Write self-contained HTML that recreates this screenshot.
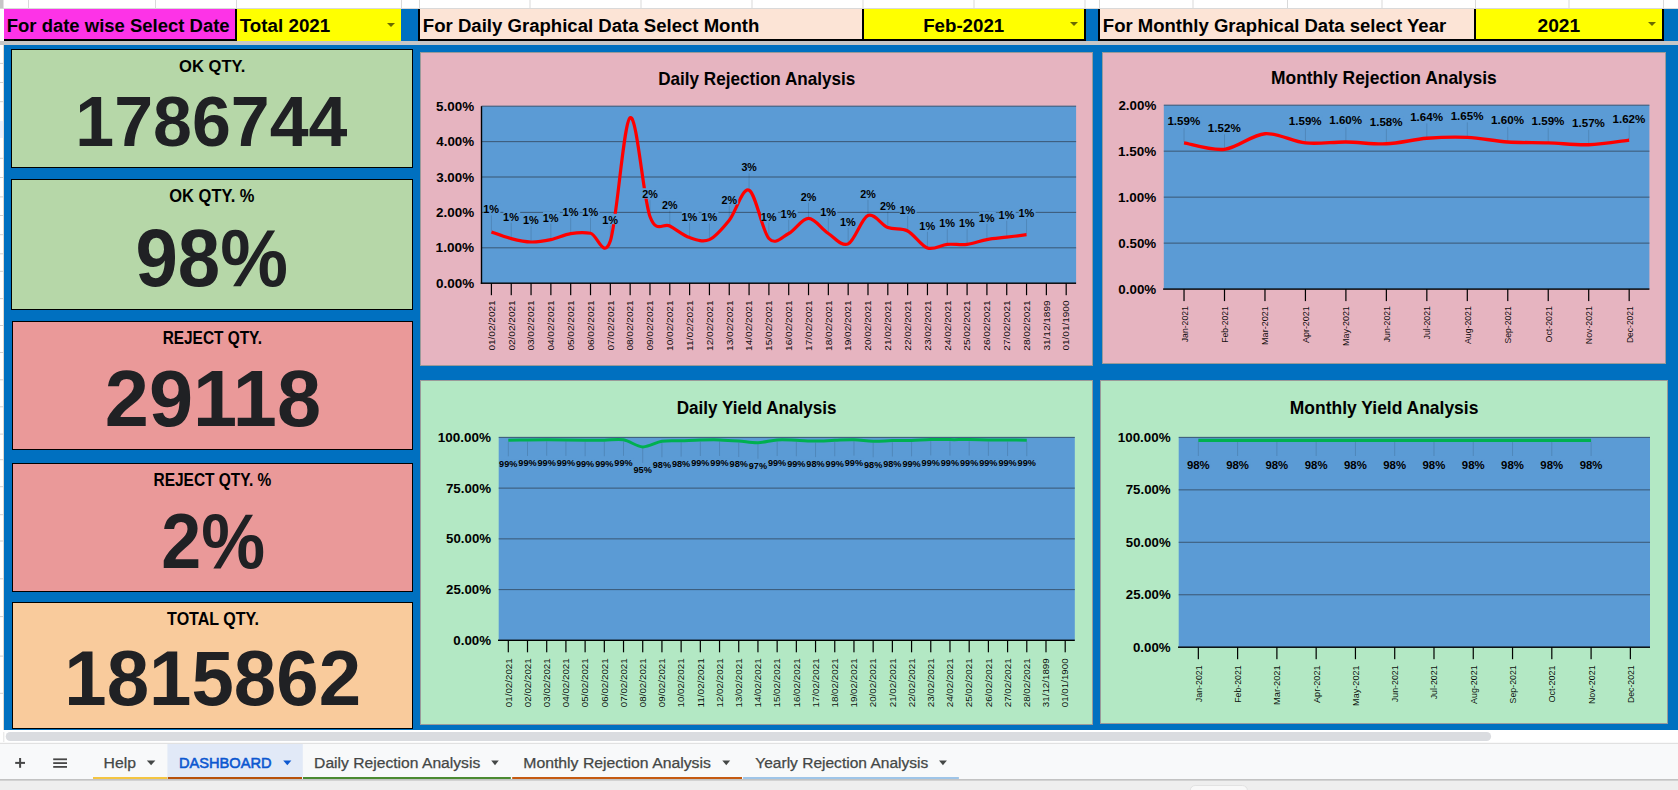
<!DOCTYPE html>
<html><head><meta charset="utf-8"><title>Dashboard</title>
<style>
html,body{margin:0;padding:0;background:#fff;overflow:hidden;}
svg{display:block;font-family:"Liberation Sans",sans-serif;}
text{font-family:"Liberation Sans",sans-serif;}
</style></head>
<body>
<svg width="1678" height="790" viewBox="0 0 1678 790">
<rect x="0.00" y="0.00" width="1678.00" height="790.00" fill="#ffffff" />
<rect x="0.00" y="0.00" width="3.50" height="8.50" fill="#c6c6c6" />
<rect x="28.00" y="0.00" width="1.00" height="8.50" fill="#d9d9d9" />
<rect x="155.00" y="0.00" width="1.00" height="8.50" fill="#d9d9d9" />
<rect x="236.00" y="0.00" width="1.00" height="8.50" fill="#d9d9d9" />
<rect x="401.00" y="0.00" width="1.00" height="8.50" fill="#d9d9d9" />
<rect x="419.00" y="0.00" width="1.00" height="8.50" fill="#d9d9d9" />
<rect x="529.50" y="0.00" width="1.00" height="8.50" fill="#d9d9d9" />
<rect x="640.50" y="0.00" width="1.00" height="8.50" fill="#d9d9d9" />
<rect x="751.50" y="0.00" width="1.00" height="8.50" fill="#d9d9d9" />
<rect x="862.50" y="0.00" width="1.00" height="8.50" fill="#d9d9d9" />
<rect x="973.50" y="0.00" width="1.00" height="8.50" fill="#d9d9d9" />
<rect x="1084.50" y="0.00" width="1.00" height="8.50" fill="#d9d9d9" />
<rect x="1099.00" y="0.00" width="1.00" height="8.50" fill="#d9d9d9" />
<rect x="1192.50" y="0.00" width="1.00" height="8.50" fill="#d9d9d9" />
<rect x="1287.00" y="0.00" width="1.00" height="8.50" fill="#d9d9d9" />
<rect x="1381.50" y="0.00" width="1.00" height="8.50" fill="#d9d9d9" />
<rect x="1475.00" y="0.00" width="1.00" height="8.50" fill="#d9d9d9" />
<rect x="1568.50" y="0.00" width="1.00" height="8.50" fill="#d9d9d9" />
<rect x="1663.00" y="0.00" width="1.00" height="8.50" fill="#d9d9d9" />
<rect x="0.00" y="8.00" width="1678.00" height="1.00" fill="#d9d9d9" />
<rect x="4.00" y="9.00" width="231.00" height="30.00" fill="#fd33e7" />
<rect x="4.00" y="39.00" width="233.00" height="2.00" fill="#000" />
<rect x="235.00" y="9.00" width="2.00" height="32.00" fill="#000" />
<rect x="237.00" y="9.00" width="164.00" height="32.00" fill="#ffff00" />
<rect x="401.00" y="9.00" width="17.00" height="32.00" fill="#0070c0" />
<rect x="418.00" y="9.00" width="668.00" height="32.00" fill="#000" />
<rect x="420.00" y="9.00" width="442.00" height="30.00" fill="#fce4d6" />
<rect x="864.00" y="9.00" width="220.00" height="30.00" fill="#ffff00" />
<rect x="1086.00" y="9.00" width="12.00" height="32.00" fill="#0070c0" />
<rect x="1098.00" y="9.00" width="566.00" height="32.00" fill="#000" />
<rect x="1100.00" y="9.00" width="374.00" height="30.00" fill="#fce4d6" />
<rect x="1476.00" y="9.00" width="186.00" height="30.00" fill="#ffff00" />
<rect x="1664.00" y="9.00" width="14.00" height="32.00" fill="#0070c0" />
<rect x="0.00" y="41.00" width="1678.00" height="4.00" fill="#c7c7c7" />
<rect x="4.00" y="45.00" width="1674.00" height="685.00" fill="#0070c0" />
<rect x="3.20" y="45.00" width="0.80" height="685.00" fill="#d8cfc4" />
<rect x="0.00" y="121.00" width="3.20" height="17.00" fill="#e8f0fe" />
<rect x="0.00" y="62.90" width="3.20" height="1.00" fill="#d0d0d0" />
<rect x="0.00" y="82.00" width="3.20" height="1.00" fill="#d0d0d0" />
<rect x="0.00" y="101.20" width="3.20" height="1.00" fill="#d0d0d0" />
<rect x="0.00" y="157.80" width="3.20" height="1.00" fill="#d0d0d0" />
<rect x="0.00" y="177.00" width="3.20" height="1.00" fill="#d0d0d0" />
<rect x="0.00" y="196.40" width="3.20" height="1.00" fill="#d0d0d0" />
<rect x="0.00" y="215.00" width="3.20" height="1.00" fill="#d0d0d0" />
<rect x="0.00" y="234.20" width="3.20" height="1.00" fill="#d0d0d0" />
<rect x="0.00" y="253.30" width="3.20" height="1.00" fill="#d0d0d0" />
<rect x="0.00" y="270.80" width="3.20" height="1.00" fill="#d0d0d0" />
<rect x="0.00" y="298.10" width="3.20" height="1.00" fill="#d0d0d0" />
<rect x="0.00" y="325.00" width="3.20" height="1.00" fill="#d0d0d0" />
<rect x="0.00" y="352.00" width="3.20" height="1.00" fill="#d0d0d0" />
<rect x="0.00" y="379.30" width="3.20" height="1.00" fill="#d0d0d0" />
<rect x="0.00" y="406.30" width="3.20" height="1.00" fill="#d0d0d0" />
<rect x="0.00" y="433.60" width="3.20" height="1.00" fill="#d0d0d0" />
<rect x="0.00" y="459.20" width="3.20" height="1.00" fill="#d0d0d0" />
<rect x="0.00" y="486.20" width="3.20" height="1.00" fill="#d0d0d0" />
<rect x="0.00" y="514.20" width="3.20" height="1.00" fill="#d0d0d0" />
<rect x="0.00" y="540.50" width="3.20" height="1.00" fill="#d0d0d0" />
<rect x="0.00" y="578.30" width="3.20" height="1.00" fill="#d0d0d0" />
<rect x="0.00" y="616.10" width="3.20" height="1.00" fill="#d0d0d0" />
<rect x="0.00" y="655.60" width="3.20" height="1.00" fill="#d0d0d0" />
<rect x="0.00" y="692.80" width="3.20" height="1.00" fill="#d0d0d0" />
<path d="M387.00,23.00 L395.00,23.00 L391.00,27.00 Z" fill="#6a6a00"/>
<path d="M1070.00,22.00 L1078.00,22.00 L1074.00,26.00 Z" fill="#6a6a00"/>
<path d="M1648.00,22.00 L1656.00,22.00 L1652.00,26.00 Z" fill="#6a6a00"/>
<text x="6.76" y="31.70" font-size="18.00" font-weight="bold" fill="#000" textLength="222.87" lengthAdjust="spacingAndGlyphs" >For date wise Select Date</text>
<text x="239.79" y="31.70" font-size="18.00" font-weight="bold" fill="#000" textLength="90.43" lengthAdjust="spacingAndGlyphs" >Total 2021</text>
<text x="422.86" y="31.70" font-size="18.00" font-weight="bold" fill="#000" textLength="336.49" lengthAdjust="spacingAndGlyphs" >For Daily Graphical Data Select Month</text>
<text x="923.15" y="31.50" font-size="17.71" font-weight="bold" fill="#000" textLength="81.07" lengthAdjust="spacingAndGlyphs" >Feb-2021</text>
<text x="1102.86" y="31.70" font-size="18.00" font-weight="bold" fill="#000" textLength="343.32" lengthAdjust="spacingAndGlyphs" >For Monthly Graphical Data select Year</text>
<text x="1537.53" y="31.50" font-size="17.71" font-weight="bold" fill="#000" textLength="42.70" lengthAdjust="spacingAndGlyphs" >2021</text>
<rect x="11.00" y="49.00" width="402.00" height="119.00" fill="#000" />
<rect x="12.00" y="50.00" width="400.00" height="117.00" fill="#b6d7a8" />
<rect x="11.00" y="179.00" width="402.00" height="131.00" fill="#000" />
<rect x="12.00" y="180.00" width="400.00" height="129.00" fill="#b6d7a8" />
<rect x="12.00" y="321.00" width="401.00" height="129.00" fill="#000" />
<rect x="13.00" y="322.00" width="399.00" height="127.00" fill="#ea9999" />
<rect x="12.00" y="463.00" width="401.00" height="129.00" fill="#000" />
<rect x="13.00" y="464.00" width="399.00" height="127.00" fill="#ea9999" />
<rect x="12.00" y="602.00" width="401.00" height="127.00" fill="#000" />
<rect x="13.00" y="603.00" width="399.00" height="125.00" fill="#f9cb9c" />
<text x="179.12" y="71.80" font-size="17.14" font-weight="bold" fill="#000" textLength="66.22" lengthAdjust="spacingAndGlyphs" >OK QTY.</text>
<text x="75.30" y="146.00" font-size="70.79" font-weight="bold" fill="#202124" textLength="272.08" lengthAdjust="spacingAndGlyphs" >1786744</text>
<text x="169.32" y="202.00" font-size="18.00" font-weight="bold" fill="#000" textLength="85.11" lengthAdjust="spacingAndGlyphs" >OK QTY. %</text>
<text x="135.46" y="285.50" font-size="80.86" font-weight="bold" fill="#202124" textLength="152.45" lengthAdjust="spacingAndGlyphs" >98%</text>
<text x="162.67" y="343.80" font-size="17.71" font-weight="bold" fill="#000" textLength="99.29" lengthAdjust="spacingAndGlyphs" >REJECT QTY.</text>
<text x="104.75" y="426.30" font-size="79.71" font-weight="bold" fill="#202124" textLength="216.29" lengthAdjust="spacingAndGlyphs" >29118</text>
<text x="153.46" y="485.80" font-size="17.86" font-weight="bold" fill="#000" textLength="117.84" lengthAdjust="spacingAndGlyphs" >REJECT QTY. %</text>
<text x="161.31" y="567.60" font-size="78.00" font-weight="bold" fill="#202124" textLength="103.78" lengthAdjust="spacingAndGlyphs" >2%</text>
<text x="167.12" y="624.80" font-size="17.71" font-weight="bold" fill="#000" textLength="91.88" lengthAdjust="spacingAndGlyphs" >TOTAL QTY.</text>
<text x="64.30" y="704.90" font-size="77.41" font-weight="bold" fill="#202124" textLength="296.75" lengthAdjust="spacingAndGlyphs" >1815862</text>
<rect x="420.00" y="52.00" width="673.00" height="314.00" fill="#9a9a9a" />
<rect x="421.00" y="53.00" width="671.00" height="312.00" fill="#e6b4c0" />
<rect x="1102.00" y="52.00" width="564.00" height="312.00" fill="#9a9a9a" />
<rect x="1103.00" y="53.00" width="562.00" height="310.00" fill="#e6b4c0" />
<rect x="420.00" y="380.00" width="673.00" height="345.00" fill="#9a9a9a" />
<rect x="421.00" y="381.00" width="671.00" height="343.00" fill="#b3e8c4" />
<rect x="1100.00" y="380.00" width="568.00" height="344.00" fill="#9a9a9a" />
<rect x="1101.00" y="381.00" width="566.00" height="342.00" fill="#b3e8c4" />
<rect x="481.50" y="106.20" width="594.60" height="177.00" fill="#5b9bd5" />
<rect x="481.50" y="105.65" width="594.60" height="1.10" fill="#3d5d7c" />
<rect x="481.50" y="141.05" width="594.60" height="1.10" fill="#3d5d7c" />
<rect x="481.50" y="176.45" width="594.60" height="1.10" fill="#3d5d7c" />
<rect x="481.50" y="211.85" width="594.60" height="1.10" fill="#3d5d7c" />
<rect x="481.50" y="247.25" width="594.60" height="1.10" fill="#3d5d7c" />
<rect x="480.80" y="106.20" width="1.40" height="177.70" fill="#000" />
<rect x="480.80" y="282.50" width="595.30" height="1.40" fill="#000" />
<rect x="490.81" y="283.20" width="1.20" height="12.00" fill="#000" />
<rect x="510.63" y="283.20" width="1.20" height="12.00" fill="#000" />
<rect x="530.45" y="283.20" width="1.20" height="12.00" fill="#000" />
<rect x="550.27" y="283.20" width="1.20" height="12.00" fill="#000" />
<rect x="570.09" y="283.20" width="1.20" height="12.00" fill="#000" />
<rect x="589.91" y="283.20" width="1.20" height="12.00" fill="#000" />
<rect x="609.73" y="283.20" width="1.20" height="12.00" fill="#000" />
<rect x="629.55" y="283.20" width="1.20" height="12.00" fill="#000" />
<rect x="649.37" y="283.20" width="1.20" height="12.00" fill="#000" />
<rect x="669.19" y="283.20" width="1.20" height="12.00" fill="#000" />
<rect x="689.01" y="283.20" width="1.20" height="12.00" fill="#000" />
<rect x="708.83" y="283.20" width="1.20" height="12.00" fill="#000" />
<rect x="728.65" y="283.20" width="1.20" height="12.00" fill="#000" />
<rect x="748.47" y="283.20" width="1.20" height="12.00" fill="#000" />
<rect x="768.29" y="283.20" width="1.20" height="12.00" fill="#000" />
<rect x="788.11" y="283.20" width="1.20" height="12.00" fill="#000" />
<rect x="807.93" y="283.20" width="1.20" height="12.00" fill="#000" />
<rect x="827.75" y="283.20" width="1.20" height="12.00" fill="#000" />
<rect x="847.57" y="283.20" width="1.20" height="12.00" fill="#000" />
<rect x="867.39" y="283.20" width="1.20" height="12.00" fill="#000" />
<rect x="887.21" y="283.20" width="1.20" height="12.00" fill="#000" />
<rect x="907.03" y="283.20" width="1.20" height="12.00" fill="#000" />
<rect x="926.85" y="283.20" width="1.20" height="12.00" fill="#000" />
<rect x="946.67" y="283.20" width="1.20" height="12.00" fill="#000" />
<rect x="966.49" y="283.20" width="1.20" height="12.00" fill="#000" />
<rect x="986.31" y="283.20" width="1.20" height="12.00" fill="#000" />
<rect x="1006.13" y="283.20" width="1.20" height="12.00" fill="#000" />
<rect x="1025.95" y="283.20" width="1.20" height="12.00" fill="#000" />
<rect x="1045.77" y="283.20" width="1.20" height="12.00" fill="#000" />
<rect x="1065.59" y="283.20" width="1.20" height="12.00" fill="#000" />
<text x="658.16" y="85.00" font-size="17.71" font-weight="bold" fill="#000" textLength="197.14" lengthAdjust="spacingAndGlyphs" >Daily Rejection Analysis</text>
<text x="436.09" y="110.80" font-size="12.29" font-weight="bold" fill="#000" textLength="38.07" lengthAdjust="spacingAndGlyphs" >5.00%</text>
<text x="436.30" y="146.20" font-size="12.29" font-weight="bold" fill="#000" textLength="37.85" lengthAdjust="spacingAndGlyphs" >4.00%</text>
<text x="436.19" y="181.60" font-size="12.29" font-weight="bold" fill="#000" textLength="37.96" lengthAdjust="spacingAndGlyphs" >3.00%</text>
<text x="436.03" y="217.00" font-size="12.29" font-weight="bold" fill="#000" textLength="38.12" lengthAdjust="spacingAndGlyphs" >2.00%</text>
<text x="435.64" y="252.40" font-size="12.29" font-weight="bold" fill="#000" textLength="38.51" lengthAdjust="spacingAndGlyphs" >1.00%</text>
<text x="435.97" y="287.80" font-size="12.29" font-weight="bold" fill="#000" textLength="38.19" lengthAdjust="spacingAndGlyphs" >0.00%</text>
<text transform="translate(494.71,350.20) rotate(-90)" x="-0.39" y="0" font-size="9.00" font-weight="normal" fill="#000" textLength="50.18" lengthAdjust="spacingAndGlyphs" fill-opacity="0.95">01/02/2021</text>
<text transform="translate(514.53,350.20) rotate(-90)" x="-0.39" y="0" font-size="9.00" font-weight="normal" fill="#000" textLength="50.18" lengthAdjust="spacingAndGlyphs" fill-opacity="0.95">02/02/2021</text>
<text transform="translate(534.35,350.20) rotate(-90)" x="-0.39" y="0" font-size="9.00" font-weight="normal" fill="#000" textLength="50.18" lengthAdjust="spacingAndGlyphs" fill-opacity="0.95">03/02/2021</text>
<text transform="translate(554.17,350.20) rotate(-90)" x="-0.39" y="0" font-size="9.00" font-weight="normal" fill="#000" textLength="50.18" lengthAdjust="spacingAndGlyphs" fill-opacity="0.95">04/02/2021</text>
<text transform="translate(573.99,350.20) rotate(-90)" x="-0.39" y="0" font-size="9.00" font-weight="normal" fill="#000" textLength="50.18" lengthAdjust="spacingAndGlyphs" fill-opacity="0.95">05/02/2021</text>
<text transform="translate(593.81,350.20) rotate(-90)" x="-0.39" y="0" font-size="9.00" font-weight="normal" fill="#000" textLength="50.18" lengthAdjust="spacingAndGlyphs" fill-opacity="0.95">06/02/2021</text>
<text transform="translate(613.63,350.20) rotate(-90)" x="-0.39" y="0" font-size="9.00" font-weight="normal" fill="#000" textLength="50.18" lengthAdjust="spacingAndGlyphs" fill-opacity="0.95">07/02/2021</text>
<text transform="translate(633.45,350.20) rotate(-90)" x="-0.39" y="0" font-size="9.00" font-weight="normal" fill="#000" textLength="50.18" lengthAdjust="spacingAndGlyphs" fill-opacity="0.95">08/02/2021</text>
<text transform="translate(653.27,350.20) rotate(-90)" x="-0.39" y="0" font-size="9.00" font-weight="normal" fill="#000" textLength="50.18" lengthAdjust="spacingAndGlyphs" fill-opacity="0.95">09/02/2021</text>
<text transform="translate(673.09,350.20) rotate(-90)" x="-0.77" y="0" font-size="9.00" font-weight="normal" fill="#000" textLength="50.56" lengthAdjust="spacingAndGlyphs" fill-opacity="0.95">10/02/2021</text>
<text transform="translate(692.91,350.20) rotate(-90)" x="-0.78" y="0" font-size="9.00" font-weight="normal" fill="#000" textLength="50.58" lengthAdjust="spacingAndGlyphs" fill-opacity="0.95">11/02/2021</text>
<text transform="translate(712.73,350.20) rotate(-90)" x="-0.77" y="0" font-size="9.00" font-weight="normal" fill="#000" textLength="50.56" lengthAdjust="spacingAndGlyphs" fill-opacity="0.95">12/02/2021</text>
<text transform="translate(732.55,350.20) rotate(-90)" x="-0.77" y="0" font-size="9.00" font-weight="normal" fill="#000" textLength="50.56" lengthAdjust="spacingAndGlyphs" fill-opacity="0.95">13/02/2021</text>
<text transform="translate(752.37,350.20) rotate(-90)" x="-0.77" y="0" font-size="9.00" font-weight="normal" fill="#000" textLength="50.56" lengthAdjust="spacingAndGlyphs" fill-opacity="0.95">14/02/2021</text>
<text transform="translate(772.19,350.20) rotate(-90)" x="-0.77" y="0" font-size="9.00" font-weight="normal" fill="#000" textLength="50.56" lengthAdjust="spacingAndGlyphs" fill-opacity="0.95">15/02/2021</text>
<text transform="translate(792.01,350.20) rotate(-90)" x="-0.77" y="0" font-size="9.00" font-weight="normal" fill="#000" textLength="50.56" lengthAdjust="spacingAndGlyphs" fill-opacity="0.95">16/02/2021</text>
<text transform="translate(811.83,350.20) rotate(-90)" x="-0.77" y="0" font-size="9.00" font-weight="normal" fill="#000" textLength="50.56" lengthAdjust="spacingAndGlyphs" fill-opacity="0.95">17/02/2021</text>
<text transform="translate(831.65,350.20) rotate(-90)" x="-0.77" y="0" font-size="9.00" font-weight="normal" fill="#000" textLength="50.56" lengthAdjust="spacingAndGlyphs" fill-opacity="0.95">18/02/2021</text>
<text transform="translate(851.47,350.20) rotate(-90)" x="-0.77" y="0" font-size="9.00" font-weight="normal" fill="#000" textLength="50.56" lengthAdjust="spacingAndGlyphs" fill-opacity="0.95">19/02/2021</text>
<text transform="translate(871.29,350.20) rotate(-90)" x="-0.51" y="0" font-size="9.00" font-weight="normal" fill="#000" textLength="50.30" lengthAdjust="spacingAndGlyphs" fill-opacity="0.95">20/02/2021</text>
<text transform="translate(891.11,350.20) rotate(-90)" x="-0.51" y="0" font-size="9.00" font-weight="normal" fill="#000" textLength="50.30" lengthAdjust="spacingAndGlyphs" fill-opacity="0.95">21/02/2021</text>
<text transform="translate(910.93,350.20) rotate(-90)" x="-0.51" y="0" font-size="9.00" font-weight="normal" fill="#000" textLength="50.30" lengthAdjust="spacingAndGlyphs" fill-opacity="0.95">22/02/2021</text>
<text transform="translate(930.75,350.20) rotate(-90)" x="-0.51" y="0" font-size="9.00" font-weight="normal" fill="#000" textLength="50.30" lengthAdjust="spacingAndGlyphs" fill-opacity="0.95">23/02/2021</text>
<text transform="translate(950.57,350.20) rotate(-90)" x="-0.51" y="0" font-size="9.00" font-weight="normal" fill="#000" textLength="50.30" lengthAdjust="spacingAndGlyphs" fill-opacity="0.95">24/02/2021</text>
<text transform="translate(970.39,350.20) rotate(-90)" x="-0.51" y="0" font-size="9.00" font-weight="normal" fill="#000" textLength="50.30" lengthAdjust="spacingAndGlyphs" fill-opacity="0.95">25/02/2021</text>
<text transform="translate(990.21,350.20) rotate(-90)" x="-0.51" y="0" font-size="9.00" font-weight="normal" fill="#000" textLength="50.30" lengthAdjust="spacingAndGlyphs" fill-opacity="0.95">26/02/2021</text>
<text transform="translate(1010.03,350.20) rotate(-90)" x="-0.51" y="0" font-size="9.00" font-weight="normal" fill="#000" textLength="50.30" lengthAdjust="spacingAndGlyphs" fill-opacity="0.95">27/02/2021</text>
<text transform="translate(1029.85,350.20) rotate(-90)" x="-0.51" y="0" font-size="9.00" font-weight="normal" fill="#000" textLength="50.30" lengthAdjust="spacingAndGlyphs" fill-opacity="0.95">28/02/2021</text>
<text transform="translate(1049.67,350.20) rotate(-90)" x="-0.38" y="0" font-size="9.00" font-weight="normal" fill="#000" textLength="50.16" lengthAdjust="spacingAndGlyphs" fill-opacity="0.95">31/12/1899</text>
<text transform="translate(1069.49,350.20) rotate(-90)" x="-0.39" y="0" font-size="9.00" font-weight="normal" fill="#000" textLength="50.08" lengthAdjust="spacingAndGlyphs" fill-opacity="0.95">01/01/1900</text>
<line x1="491.41" y1="215.30" x2="491.41" y2="230.90" stroke="rgba(0,0,0,0.13)" stroke-width="1" />
<line x1="511.23" y1="222.60" x2="511.23" y2="237.60" stroke="rgba(0,0,0,0.13)" stroke-width="1" />
<line x1="531.05" y1="225.70" x2="531.05" y2="241.00" stroke="rgba(0,0,0,0.13)" stroke-width="1" />
<line x1="550.87" y1="223.60" x2="550.87" y2="238.60" stroke="rgba(0,0,0,0.13)" stroke-width="1" />
<line x1="570.69" y1="217.80" x2="570.69" y2="232.60" stroke="rgba(0,0,0,0.13)" stroke-width="1" />
<line x1="590.51" y1="217.80" x2="590.51" y2="232.30" stroke="rgba(0,0,0,0.13)" stroke-width="1" />
<line x1="610.33" y1="225.70" x2="610.33" y2="240.00" stroke="rgba(0,0,0,0.13)" stroke-width="1" />
<line x1="649.97" y1="200.10" x2="649.97" y2="215.50" stroke="rgba(0,0,0,0.13)" stroke-width="1" />
<line x1="669.79" y1="210.60" x2="669.79" y2="225.00" stroke="rgba(0,0,0,0.13)" stroke-width="1" />
<line x1="689.61" y1="222.60" x2="689.61" y2="236.60" stroke="rgba(0,0,0,0.13)" stroke-width="1" />
<line x1="709.43" y1="223.30" x2="709.43" y2="238.60" stroke="rgba(0,0,0,0.13)" stroke-width="1" />
<line x1="729.25" y1="205.80" x2="729.25" y2="219.30" stroke="rgba(0,0,0,0.13)" stroke-width="1" />
<line x1="749.07" y1="173.30" x2="749.07" y2="189.20" stroke="rgba(0,0,0,0.13)" stroke-width="1" />
<line x1="768.89" y1="222.60" x2="768.89" y2="237.50" stroke="rgba(0,0,0,0.13)" stroke-width="1" />
<line x1="788.71" y1="219.50" x2="788.71" y2="232.50" stroke="rgba(0,0,0,0.13)" stroke-width="1" />
<line x1="808.53" y1="202.60" x2="808.53" y2="217.40" stroke="rgba(0,0,0,0.13)" stroke-width="1" />
<line x1="828.35" y1="217.80" x2="828.35" y2="232.50" stroke="rgba(0,0,0,0.13)" stroke-width="1" />
<line x1="848.17" y1="227.90" x2="848.17" y2="242.90" stroke="rgba(0,0,0,0.13)" stroke-width="1" />
<line x1="867.99" y1="199.80" x2="867.99" y2="214.50" stroke="rgba(0,0,0,0.13)" stroke-width="1" />
<line x1="887.81" y1="211.80" x2="887.81" y2="226.50" stroke="rgba(0,0,0,0.13)" stroke-width="1" />
<line x1="907.63" y1="215.90" x2="907.63" y2="230.00" stroke="rgba(0,0,0,0.13)" stroke-width="1" />
<line x1="927.45" y1="231.80" x2="927.45" y2="247.00" stroke="rgba(0,0,0,0.13)" stroke-width="1" />
<line x1="947.27" y1="229.10" x2="947.27" y2="243.40" stroke="rgba(0,0,0,0.13)" stroke-width="1" />
<line x1="967.09" y1="229.10" x2="967.09" y2="243.40" stroke="rgba(0,0,0,0.13)" stroke-width="1" />
<line x1="986.91" y1="223.80" x2="986.91" y2="238.60" stroke="rgba(0,0,0,0.13)" stroke-width="1" />
<line x1="1006.73" y1="220.70" x2="1006.73" y2="236.20" stroke="rgba(0,0,0,0.13)" stroke-width="1" />
<line x1="1026.55" y1="219.00" x2="1026.55" y2="233.70" stroke="rgba(0,0,0,0.13)" stroke-width="1" />
<path d="M491.41,231.90 C494.71,233.02 504.62,236.92 511.23,238.60 C517.84,240.28 524.44,241.83 531.05,242.00 C537.66,242.17 544.26,241.00 550.87,239.60 C557.48,238.20 564.08,234.65 570.69,233.60 C577.30,232.55 583.90,232.07 590.51,233.30 C597.12,234.53 603.72,260.27 610.33,241.00 C616.94,221.73 623.54,121.78 630.15,117.70 C636.76,113.62 643.36,198.45 649.97,216.50 C656.58,234.55 663.18,222.48 669.79,226.00 C676.40,229.52 683.00,235.33 689.61,237.60 C696.22,239.87 702.82,242.48 709.43,239.60 C716.04,236.72 722.64,228.53 729.25,220.30 C735.86,212.07 742.46,187.17 749.07,190.20 C755.68,193.23 762.28,231.28 768.89,238.50 C775.50,245.72 782.10,236.85 788.71,233.50 C795.32,230.15 801.92,218.40 808.53,218.40 C815.14,218.40 821.74,229.25 828.35,233.50 C834.96,237.75 841.56,246.90 848.17,243.90 C854.78,240.90 861.38,218.23 867.99,215.50 C874.60,212.77 881.20,224.92 887.81,227.50 C894.42,230.08 901.02,227.58 907.63,231.00 C914.24,234.42 920.84,245.77 927.45,248.00 C934.06,250.23 940.66,245.00 947.27,244.40 C953.88,243.80 960.48,245.20 967.09,244.40 C973.70,243.60 980.30,240.80 986.91,239.60 C993.52,238.40 1000.12,238.02 1006.73,237.20 C1013.34,236.38 1023.25,235.12 1026.55,234.70" fill="none" stroke="#ff0000" stroke-width="3.2" stroke-linecap="butt" stroke-linejoin="round"/>
<rect x="483.56" y="203.40" width="16.80" height="10.40" fill="#5b9bd5" />
<text x="483.27" y="213.30" font-size="11.57" font-weight="bold" fill="#000" textLength="15.88" lengthAdjust="spacingAndGlyphs" >1%</text>
<rect x="503.38" y="210.70" width="16.80" height="10.40" fill="#5b9bd5" />
<text x="503.09" y="220.60" font-size="11.57" font-weight="bold" fill="#000" textLength="15.88" lengthAdjust="spacingAndGlyphs" >1%</text>
<rect x="523.20" y="213.80" width="16.80" height="10.40" fill="#5b9bd5" />
<text x="522.91" y="223.70" font-size="11.57" font-weight="bold" fill="#000" textLength="15.88" lengthAdjust="spacingAndGlyphs" >1%</text>
<rect x="543.02" y="211.70" width="16.80" height="10.40" fill="#5b9bd5" />
<text x="542.73" y="221.60" font-size="11.57" font-weight="bold" fill="#000" textLength="15.88" lengthAdjust="spacingAndGlyphs" >1%</text>
<rect x="562.84" y="205.90" width="16.80" height="10.40" fill="#5b9bd5" />
<text x="562.55" y="215.80" font-size="11.57" font-weight="bold" fill="#000" textLength="15.88" lengthAdjust="spacingAndGlyphs" >1%</text>
<rect x="582.66" y="205.90" width="16.80" height="10.40" fill="#5b9bd5" />
<text x="582.37" y="215.80" font-size="11.57" font-weight="bold" fill="#000" textLength="15.88" lengthAdjust="spacingAndGlyphs" >1%</text>
<rect x="602.48" y="213.80" width="16.80" height="10.40" fill="#5b9bd5" />
<text x="602.19" y="223.70" font-size="11.57" font-weight="bold" fill="#000" textLength="15.88" lengthAdjust="spacingAndGlyphs" >1%</text>
<rect x="642.12" y="188.20" width="16.80" height="10.40" fill="#5b9bd5" />
<text x="642.15" y="198.10" font-size="11.57" font-weight="bold" fill="#000" textLength="15.56" lengthAdjust="spacingAndGlyphs" >2%</text>
<rect x="661.94" y="198.70" width="16.80" height="10.40" fill="#5b9bd5" />
<text x="661.97" y="208.60" font-size="11.57" font-weight="bold" fill="#000" textLength="15.56" lengthAdjust="spacingAndGlyphs" >2%</text>
<rect x="681.76" y="210.70" width="16.80" height="10.40" fill="#5b9bd5" />
<text x="681.47" y="220.60" font-size="11.57" font-weight="bold" fill="#000" textLength="15.88" lengthAdjust="spacingAndGlyphs" >1%</text>
<rect x="701.58" y="211.40" width="16.80" height="10.40" fill="#5b9bd5" />
<text x="701.29" y="221.30" font-size="11.57" font-weight="bold" fill="#000" textLength="15.88" lengthAdjust="spacingAndGlyphs" >1%</text>
<rect x="721.40" y="193.90" width="16.80" height="10.40" fill="#5b9bd5" />
<text x="721.43" y="203.80" font-size="11.57" font-weight="bold" fill="#000" textLength="15.56" lengthAdjust="spacingAndGlyphs" >2%</text>
<rect x="741.22" y="161.40" width="16.80" height="10.40" fill="#5b9bd5" />
<text x="741.38" y="171.30" font-size="11.57" font-weight="bold" fill="#000" textLength="15.43" lengthAdjust="spacingAndGlyphs" >3%</text>
<rect x="761.04" y="210.70" width="16.80" height="10.40" fill="#5b9bd5" />
<text x="760.75" y="220.60" font-size="11.57" font-weight="bold" fill="#000" textLength="15.88" lengthAdjust="spacingAndGlyphs" >1%</text>
<rect x="780.86" y="207.60" width="16.80" height="10.40" fill="#5b9bd5" />
<text x="780.57" y="217.50" font-size="11.57" font-weight="bold" fill="#000" textLength="15.88" lengthAdjust="spacingAndGlyphs" >1%</text>
<rect x="800.68" y="190.70" width="16.80" height="10.40" fill="#5b9bd5" />
<text x="800.71" y="200.60" font-size="11.57" font-weight="bold" fill="#000" textLength="15.56" lengthAdjust="spacingAndGlyphs" >2%</text>
<rect x="820.50" y="205.90" width="16.80" height="10.40" fill="#5b9bd5" />
<text x="820.21" y="215.80" font-size="11.57" font-weight="bold" fill="#000" textLength="15.88" lengthAdjust="spacingAndGlyphs" >1%</text>
<rect x="840.32" y="216.00" width="16.80" height="10.40" fill="#5b9bd5" />
<text x="840.03" y="225.90" font-size="11.57" font-weight="bold" fill="#000" textLength="15.88" lengthAdjust="spacingAndGlyphs" >1%</text>
<rect x="860.14" y="187.90" width="16.80" height="10.40" fill="#5b9bd5" />
<text x="860.17" y="197.80" font-size="11.57" font-weight="bold" fill="#000" textLength="15.56" lengthAdjust="spacingAndGlyphs" >2%</text>
<rect x="879.96" y="199.90" width="16.80" height="10.40" fill="#5b9bd5" />
<text x="879.99" y="209.80" font-size="11.57" font-weight="bold" fill="#000" textLength="15.56" lengthAdjust="spacingAndGlyphs" >2%</text>
<rect x="899.78" y="204.00" width="16.80" height="10.40" fill="#5b9bd5" />
<text x="899.49" y="213.90" font-size="11.57" font-weight="bold" fill="#000" textLength="15.88" lengthAdjust="spacingAndGlyphs" >1%</text>
<rect x="919.60" y="219.90" width="16.80" height="10.40" fill="#5b9bd5" />
<text x="919.31" y="229.80" font-size="11.57" font-weight="bold" fill="#000" textLength="15.88" lengthAdjust="spacingAndGlyphs" >1%</text>
<rect x="939.42" y="217.20" width="16.80" height="10.40" fill="#5b9bd5" />
<text x="939.13" y="227.10" font-size="11.57" font-weight="bold" fill="#000" textLength="15.88" lengthAdjust="spacingAndGlyphs" >1%</text>
<rect x="959.24" y="217.20" width="16.80" height="10.40" fill="#5b9bd5" />
<text x="958.95" y="227.10" font-size="11.57" font-weight="bold" fill="#000" textLength="15.88" lengthAdjust="spacingAndGlyphs" >1%</text>
<rect x="979.06" y="211.90" width="16.80" height="10.40" fill="#5b9bd5" />
<text x="978.77" y="221.80" font-size="11.57" font-weight="bold" fill="#000" textLength="15.88" lengthAdjust="spacingAndGlyphs" >1%</text>
<rect x="998.88" y="208.80" width="16.80" height="10.40" fill="#5b9bd5" />
<text x="998.59" y="218.70" font-size="11.57" font-weight="bold" fill="#000" textLength="15.88" lengthAdjust="spacingAndGlyphs" >1%</text>
<rect x="1018.70" y="207.10" width="16.80" height="10.40" fill="#5b9bd5" />
<text x="1018.41" y="217.00" font-size="11.57" font-weight="bold" fill="#000" textLength="15.88" lengthAdjust="spacingAndGlyphs" >1%</text>
<rect x="1163.80" y="105.20" width="485.60" height="183.90" fill="#5b9bd5" />
<rect x="1163.80" y="104.65" width="485.60" height="1.10" fill="#3d5d7c" />
<rect x="1163.80" y="150.62" width="485.60" height="1.10" fill="#3d5d7c" />
<rect x="1163.80" y="196.60" width="485.60" height="1.10" fill="#3d5d7c" />
<rect x="1163.80" y="242.57" width="485.60" height="1.10" fill="#3d5d7c" />
<rect x="1163.10" y="288.40" width="486.30" height="1.40" fill="#000" />
<rect x="1183.43" y="289.10" width="1.20" height="12.00" fill="#000" />
<rect x="1223.90" y="289.10" width="1.20" height="12.00" fill="#000" />
<rect x="1264.37" y="289.10" width="1.20" height="12.00" fill="#000" />
<rect x="1304.83" y="289.10" width="1.20" height="12.00" fill="#000" />
<rect x="1345.30" y="289.10" width="1.20" height="12.00" fill="#000" />
<rect x="1385.77" y="289.10" width="1.20" height="12.00" fill="#000" />
<rect x="1426.23" y="289.10" width="1.20" height="12.00" fill="#000" />
<rect x="1466.70" y="289.10" width="1.20" height="12.00" fill="#000" />
<rect x="1507.17" y="289.10" width="1.20" height="12.00" fill="#000" />
<rect x="1547.63" y="289.10" width="1.20" height="12.00" fill="#000" />
<rect x="1588.10" y="289.10" width="1.20" height="12.00" fill="#000" />
<rect x="1628.57" y="289.10" width="1.20" height="12.00" fill="#000" />
<text x="1271.04" y="83.90" font-size="17.71" font-weight="bold" fill="#000" textLength="225.77" lengthAdjust="spacingAndGlyphs" >Monthly Rejection Analysis</text>
<text x="1118.44" y="109.90" font-size="12.86" font-weight="bold" fill="#000" textLength="37.81" lengthAdjust="spacingAndGlyphs" >2.00%</text>
<text x="1118.05" y="155.88" font-size="12.86" font-weight="bold" fill="#000" textLength="38.20" lengthAdjust="spacingAndGlyphs" >1.50%</text>
<text x="1118.05" y="201.85" font-size="12.86" font-weight="bold" fill="#000" textLength="38.20" lengthAdjust="spacingAndGlyphs" >1.00%</text>
<text x="1118.37" y="247.82" font-size="12.86" font-weight="bold" fill="#000" textLength="37.88" lengthAdjust="spacingAndGlyphs" >0.50%</text>
<text x="1118.37" y="293.80" font-size="12.86" font-weight="bold" fill="#000" textLength="37.88" lengthAdjust="spacingAndGlyphs" >0.00%</text>
<text transform="translate(1187.53,342.08) rotate(-90)" x="-0.14" y="0" font-size="9.14" font-weight="normal" fill="#000" textLength="36.03" lengthAdjust="spacingAndGlyphs" fill-opacity="0.95">Jan-2021</text>
<text transform="translate(1228.00,342.08) rotate(-90)" x="-0.70" y="0" font-size="9.14" font-weight="normal" fill="#000" textLength="36.59" lengthAdjust="spacingAndGlyphs" fill-opacity="0.95">Feb-2021</text>
<text transform="translate(1268.47,344.23) rotate(-90)" x="-0.74" y="0" font-size="9.14" font-weight="normal" fill="#000" textLength="38.82" lengthAdjust="spacingAndGlyphs" fill-opacity="0.95">Mar-2021</text>
<text transform="translate(1308.93,343.06) rotate(-90)" x="-0.02" y="0" font-size="9.14" font-weight="normal" fill="#000" textLength="36.91" lengthAdjust="spacingAndGlyphs" fill-opacity="0.95">Apr-2021</text>
<text transform="translate(1349.40,345.21) rotate(-90)" x="-0.73" y="0" font-size="9.14" font-weight="normal" fill="#000" textLength="39.78" lengthAdjust="spacingAndGlyphs" fill-opacity="0.95">May-2021</text>
<text transform="translate(1389.87,342.08) rotate(-90)" x="-0.14" y="0" font-size="9.14" font-weight="normal" fill="#000" textLength="36.03" lengthAdjust="spacingAndGlyphs" fill-opacity="0.95">Jun-2021</text>
<text transform="translate(1430.33,339.33) rotate(-90)" x="-0.14" y="0" font-size="9.14" font-weight="normal" fill="#000" textLength="33.29" lengthAdjust="spacingAndGlyphs" fill-opacity="0.95">Jul-2021</text>
<text transform="translate(1470.80,344.04) rotate(-90)" x="-0.02" y="0" font-size="9.14" font-weight="normal" fill="#000" textLength="37.88" lengthAdjust="spacingAndGlyphs" fill-opacity="0.95">Aug-2021</text>
<text transform="translate(1511.27,343.06) rotate(-90)" x="-0.39" y="0" font-size="9.14" font-weight="normal" fill="#000" textLength="37.27" lengthAdjust="spacingAndGlyphs" fill-opacity="0.95">Sep-2021</text>
<text transform="translate(1551.73,342.08) rotate(-90)" x="-0.42" y="0" font-size="9.14" font-weight="normal" fill="#000" textLength="36.33" lengthAdjust="spacingAndGlyphs" fill-opacity="0.95">Oct-2021</text>
<text transform="translate(1592.20,343.45) rotate(-90)" x="-0.72" y="0" font-size="9.14" font-weight="normal" fill="#000" textLength="37.99" lengthAdjust="spacingAndGlyphs" fill-opacity="0.95">Nov-2021</text>
<text transform="translate(1632.67,342.37) rotate(-90)" x="-0.70" y="0" font-size="9.14" font-weight="normal" fill="#000" textLength="36.88" lengthAdjust="spacingAndGlyphs" fill-opacity="0.95">Dec-2021</text>
<line x1="1184.03" y1="127.90" x2="1184.03" y2="141.90" stroke="rgba(0,0,0,0.13)" stroke-width="1" />
<line x1="1224.50" y1="134.34" x2="1224.50" y2="148.34" stroke="rgba(0,0,0,0.13)" stroke-width="1" />
<line x1="1305.43" y1="127.90" x2="1305.43" y2="141.90" stroke="rgba(0,0,0,0.13)" stroke-width="1" />
<line x1="1345.90" y1="126.98" x2="1345.90" y2="140.98" stroke="rgba(0,0,0,0.13)" stroke-width="1" />
<line x1="1386.37" y1="128.82" x2="1386.37" y2="142.82" stroke="rgba(0,0,0,0.13)" stroke-width="1" />
<line x1="1426.83" y1="123.30" x2="1426.83" y2="137.30" stroke="rgba(0,0,0,0.13)" stroke-width="1" />
<line x1="1467.30" y1="122.38" x2="1467.30" y2="136.38" stroke="rgba(0,0,0,0.13)" stroke-width="1" />
<line x1="1507.77" y1="126.98" x2="1507.77" y2="140.98" stroke="rgba(0,0,0,0.13)" stroke-width="1" />
<line x1="1548.23" y1="127.90" x2="1548.23" y2="141.90" stroke="rgba(0,0,0,0.13)" stroke-width="1" />
<line x1="1588.70" y1="129.74" x2="1588.70" y2="143.74" stroke="rgba(0,0,0,0.13)" stroke-width="1" />
<line x1="1629.17" y1="125.14" x2="1629.17" y2="139.14" stroke="rgba(0,0,0,0.13)" stroke-width="1" />
<path d="M1184.03,142.90 C1190.78,143.97 1211.01,150.87 1224.50,149.34 C1237.99,147.80 1251.48,134.78 1264.97,133.70 C1278.46,132.63 1291.94,141.52 1305.43,142.90 C1318.92,144.28 1332.41,141.83 1345.90,141.98 C1359.39,142.13 1372.88,144.43 1386.37,143.82 C1399.86,143.21 1413.34,139.37 1426.83,138.30 C1440.32,137.23 1453.81,136.77 1467.30,137.38 C1480.79,138.00 1494.28,141.06 1507.77,141.98 C1521.26,142.90 1534.74,142.44 1548.23,142.90 C1561.72,143.36 1575.21,145.20 1588.70,144.74 C1602.19,144.28 1622.42,140.91 1629.17,140.14" fill="none" stroke="#ff0000" stroke-width="3.4" stroke-linecap="butt" stroke-linejoin="round"/>
<rect x="1167.73" y="115.90" width="33.70" height="9.90" fill="#5b9bd5" />
<text x="1167.40" y="125.30" font-size="10.86" font-weight="bold" fill="#000" textLength="32.83" lengthAdjust="spacingAndGlyphs" >1.59%</text>
<rect x="1208.20" y="122.34" width="33.70" height="9.90" fill="#5b9bd5" />
<text x="1207.87" y="131.74" font-size="10.86" font-weight="bold" fill="#000" textLength="32.83" lengthAdjust="spacingAndGlyphs" >1.52%</text>
<rect x="1289.13" y="115.90" width="33.70" height="9.90" fill="#5b9bd5" />
<text x="1288.80" y="125.30" font-size="10.86" font-weight="bold" fill="#000" textLength="32.83" lengthAdjust="spacingAndGlyphs" >1.59%</text>
<rect x="1329.60" y="114.98" width="33.70" height="9.90" fill="#5b9bd5" />
<text x="1329.27" y="124.38" font-size="10.86" font-weight="bold" fill="#000" textLength="32.83" lengthAdjust="spacingAndGlyphs" >1.60%</text>
<rect x="1370.07" y="116.82" width="33.70" height="9.90" fill="#5b9bd5" />
<text x="1369.74" y="126.22" font-size="10.86" font-weight="bold" fill="#000" textLength="32.83" lengthAdjust="spacingAndGlyphs" >1.58%</text>
<rect x="1410.53" y="111.30" width="33.70" height="9.90" fill="#5b9bd5" />
<text x="1410.20" y="120.70" font-size="10.86" font-weight="bold" fill="#000" textLength="32.83" lengthAdjust="spacingAndGlyphs" >1.64%</text>
<rect x="1451.00" y="110.38" width="33.70" height="9.90" fill="#5b9bd5" />
<text x="1450.67" y="119.78" font-size="10.86" font-weight="bold" fill="#000" textLength="32.83" lengthAdjust="spacingAndGlyphs" >1.65%</text>
<rect x="1491.47" y="114.98" width="33.70" height="9.90" fill="#5b9bd5" />
<text x="1491.14" y="124.38" font-size="10.86" font-weight="bold" fill="#000" textLength="32.83" lengthAdjust="spacingAndGlyphs" >1.60%</text>
<rect x="1531.93" y="115.90" width="33.70" height="9.90" fill="#5b9bd5" />
<text x="1531.60" y="125.30" font-size="10.86" font-weight="bold" fill="#000" textLength="32.83" lengthAdjust="spacingAndGlyphs" >1.59%</text>
<rect x="1572.40" y="117.74" width="33.70" height="9.90" fill="#5b9bd5" />
<text x="1572.07" y="127.14" font-size="10.86" font-weight="bold" fill="#000" textLength="32.83" lengthAdjust="spacingAndGlyphs" >1.57%</text>
<rect x="1612.87" y="113.14" width="33.70" height="9.90" fill="#5b9bd5" />
<text x="1612.54" y="122.54" font-size="10.86" font-weight="bold" fill="#000" textLength="32.83" lengthAdjust="spacingAndGlyphs" >1.62%</text>
<rect x="498.70" y="437.40" width="576.10" height="202.90" fill="#5b9bd5" />
<rect x="498.70" y="436.85" width="576.10" height="1.10" fill="#3d5d7c" />
<rect x="498.70" y="487.57" width="576.10" height="1.10" fill="#3d5d7c" />
<rect x="498.70" y="538.30" width="576.10" height="1.10" fill="#3d5d7c" />
<rect x="498.70" y="589.02" width="576.10" height="1.10" fill="#3d5d7c" />
<rect x="498.00" y="639.60" width="576.80" height="1.40" fill="#000" />
<rect x="507.70" y="640.30" width="1.20" height="12.00" fill="#000" />
<rect x="526.90" y="640.30" width="1.20" height="12.00" fill="#000" />
<rect x="546.11" y="640.30" width="1.20" height="12.00" fill="#000" />
<rect x="565.31" y="640.30" width="1.20" height="12.00" fill="#000" />
<rect x="584.51" y="640.30" width="1.20" height="12.00" fill="#000" />
<rect x="603.72" y="640.30" width="1.20" height="12.00" fill="#000" />
<rect x="622.92" y="640.30" width="1.20" height="12.00" fill="#000" />
<rect x="642.12" y="640.30" width="1.20" height="12.00" fill="#000" />
<rect x="661.33" y="640.30" width="1.20" height="12.00" fill="#000" />
<rect x="680.53" y="640.30" width="1.20" height="12.00" fill="#000" />
<rect x="699.73" y="640.30" width="1.20" height="12.00" fill="#000" />
<rect x="718.94" y="640.30" width="1.20" height="12.00" fill="#000" />
<rect x="738.14" y="640.30" width="1.20" height="12.00" fill="#000" />
<rect x="757.34" y="640.30" width="1.20" height="12.00" fill="#000" />
<rect x="776.55" y="640.30" width="1.20" height="12.00" fill="#000" />
<rect x="795.75" y="640.30" width="1.20" height="12.00" fill="#000" />
<rect x="814.95" y="640.30" width="1.20" height="12.00" fill="#000" />
<rect x="834.16" y="640.30" width="1.20" height="12.00" fill="#000" />
<rect x="853.36" y="640.30" width="1.20" height="12.00" fill="#000" />
<rect x="872.56" y="640.30" width="1.20" height="12.00" fill="#000" />
<rect x="891.77" y="640.30" width="1.20" height="12.00" fill="#000" />
<rect x="910.97" y="640.30" width="1.20" height="12.00" fill="#000" />
<rect x="930.17" y="640.30" width="1.20" height="12.00" fill="#000" />
<rect x="949.38" y="640.30" width="1.20" height="12.00" fill="#000" />
<rect x="968.58" y="640.30" width="1.20" height="12.00" fill="#000" />
<rect x="987.78" y="640.30" width="1.20" height="12.00" fill="#000" />
<rect x="1006.99" y="640.30" width="1.20" height="12.00" fill="#000" />
<rect x="1026.19" y="640.30" width="1.20" height="12.00" fill="#000" />
<rect x="1045.39" y="640.30" width="1.20" height="12.00" fill="#000" />
<rect x="1064.60" y="640.30" width="1.20" height="12.00" fill="#000" />
<text x="676.76" y="413.80" font-size="18.00" font-weight="bold" fill="#000" textLength="159.73" lengthAdjust="spacingAndGlyphs" >Daily Yield Analysis</text>
<text x="437.85" y="441.90" font-size="12.29" font-weight="bold" fill="#000" textLength="53.20" lengthAdjust="spacingAndGlyphs" >100.00%</text>
<text x="445.93" y="492.62" font-size="12.29" font-weight="bold" fill="#000" textLength="45.12" lengthAdjust="spacingAndGlyphs" >75.00%</text>
<text x="446.09" y="543.35" font-size="12.29" font-weight="bold" fill="#000" textLength="44.96" lengthAdjust="spacingAndGlyphs" >50.00%</text>
<text x="446.04" y="594.07" font-size="12.29" font-weight="bold" fill="#000" textLength="45.01" lengthAdjust="spacingAndGlyphs" >25.00%</text>
<text x="453.27" y="644.80" font-size="12.29" font-weight="bold" fill="#000" textLength="37.78" lengthAdjust="spacingAndGlyphs" >0.00%</text>
<text transform="translate(511.50,706.80) rotate(-90)" x="-0.38" y="0" font-size="8.86" font-weight="normal" fill="#000" textLength="48.86" lengthAdjust="spacingAndGlyphs" fill-opacity="0.95">01/02/2021</text>
<text transform="translate(530.71,706.80) rotate(-90)" x="-0.38" y="0" font-size="8.86" font-weight="normal" fill="#000" textLength="48.86" lengthAdjust="spacingAndGlyphs" fill-opacity="0.95">02/02/2021</text>
<text transform="translate(549.91,706.80) rotate(-90)" x="-0.38" y="0" font-size="8.86" font-weight="normal" fill="#000" textLength="48.86" lengthAdjust="spacingAndGlyphs" fill-opacity="0.95">03/02/2021</text>
<text transform="translate(569.11,706.80) rotate(-90)" x="-0.38" y="0" font-size="8.86" font-weight="normal" fill="#000" textLength="48.86" lengthAdjust="spacingAndGlyphs" fill-opacity="0.95">04/02/2021</text>
<text transform="translate(588.32,706.80) rotate(-90)" x="-0.38" y="0" font-size="8.86" font-weight="normal" fill="#000" textLength="48.86" lengthAdjust="spacingAndGlyphs" fill-opacity="0.95">05/02/2021</text>
<text transform="translate(607.52,706.80) rotate(-90)" x="-0.38" y="0" font-size="8.86" font-weight="normal" fill="#000" textLength="48.86" lengthAdjust="spacingAndGlyphs" fill-opacity="0.95">06/02/2021</text>
<text transform="translate(626.72,706.80) rotate(-90)" x="-0.38" y="0" font-size="8.86" font-weight="normal" fill="#000" textLength="48.86" lengthAdjust="spacingAndGlyphs" fill-opacity="0.95">07/02/2021</text>
<text transform="translate(645.92,706.80) rotate(-90)" x="-0.38" y="0" font-size="8.86" font-weight="normal" fill="#000" textLength="48.86" lengthAdjust="spacingAndGlyphs" fill-opacity="0.95">08/02/2021</text>
<text transform="translate(665.13,706.80) rotate(-90)" x="-0.38" y="0" font-size="8.86" font-weight="normal" fill="#000" textLength="48.86" lengthAdjust="spacingAndGlyphs" fill-opacity="0.95">09/02/2021</text>
<text transform="translate(684.33,706.80) rotate(-90)" x="-0.75" y="0" font-size="8.86" font-weight="normal" fill="#000" textLength="49.23" lengthAdjust="spacingAndGlyphs" fill-opacity="0.95">10/02/2021</text>
<text transform="translate(703.53,706.80) rotate(-90)" x="-0.76" y="0" font-size="8.86" font-weight="normal" fill="#000" textLength="49.25" lengthAdjust="spacingAndGlyphs" fill-opacity="0.95">11/02/2021</text>
<text transform="translate(722.74,706.80) rotate(-90)" x="-0.75" y="0" font-size="8.86" font-weight="normal" fill="#000" textLength="49.23" lengthAdjust="spacingAndGlyphs" fill-opacity="0.95">12/02/2021</text>
<text transform="translate(741.94,706.80) rotate(-90)" x="-0.75" y="0" font-size="8.86" font-weight="normal" fill="#000" textLength="49.23" lengthAdjust="spacingAndGlyphs" fill-opacity="0.95">13/02/2021</text>
<text transform="translate(761.14,706.80) rotate(-90)" x="-0.75" y="0" font-size="8.86" font-weight="normal" fill="#000" textLength="49.23" lengthAdjust="spacingAndGlyphs" fill-opacity="0.95">14/02/2021</text>
<text transform="translate(780.35,706.80) rotate(-90)" x="-0.75" y="0" font-size="8.86" font-weight="normal" fill="#000" textLength="49.23" lengthAdjust="spacingAndGlyphs" fill-opacity="0.95">15/02/2021</text>
<text transform="translate(799.55,706.80) rotate(-90)" x="-0.75" y="0" font-size="8.86" font-weight="normal" fill="#000" textLength="49.23" lengthAdjust="spacingAndGlyphs" fill-opacity="0.95">16/02/2021</text>
<text transform="translate(818.75,706.80) rotate(-90)" x="-0.75" y="0" font-size="8.86" font-weight="normal" fill="#000" textLength="49.23" lengthAdjust="spacingAndGlyphs" fill-opacity="0.95">17/02/2021</text>
<text transform="translate(837.96,706.80) rotate(-90)" x="-0.75" y="0" font-size="8.86" font-weight="normal" fill="#000" textLength="49.23" lengthAdjust="spacingAndGlyphs" fill-opacity="0.95">18/02/2021</text>
<text transform="translate(857.16,706.80) rotate(-90)" x="-0.75" y="0" font-size="8.86" font-weight="normal" fill="#000" textLength="49.23" lengthAdjust="spacingAndGlyphs" fill-opacity="0.95">19/02/2021</text>
<text transform="translate(876.37,706.80) rotate(-90)" x="-0.49" y="0" font-size="8.86" font-weight="normal" fill="#000" textLength="48.97" lengthAdjust="spacingAndGlyphs" fill-opacity="0.95">20/02/2021</text>
<text transform="translate(895.57,706.80) rotate(-90)" x="-0.49" y="0" font-size="8.86" font-weight="normal" fill="#000" textLength="48.97" lengthAdjust="spacingAndGlyphs" fill-opacity="0.95">21/02/2021</text>
<text transform="translate(914.77,706.80) rotate(-90)" x="-0.49" y="0" font-size="8.86" font-weight="normal" fill="#000" textLength="48.97" lengthAdjust="spacingAndGlyphs" fill-opacity="0.95">22/02/2021</text>
<text transform="translate(933.97,706.80) rotate(-90)" x="-0.49" y="0" font-size="8.86" font-weight="normal" fill="#000" textLength="48.97" lengthAdjust="spacingAndGlyphs" fill-opacity="0.95">23/02/2021</text>
<text transform="translate(953.18,706.80) rotate(-90)" x="-0.49" y="0" font-size="8.86" font-weight="normal" fill="#000" textLength="48.97" lengthAdjust="spacingAndGlyphs" fill-opacity="0.95">24/02/2021</text>
<text transform="translate(972.38,706.80) rotate(-90)" x="-0.49" y="0" font-size="8.86" font-weight="normal" fill="#000" textLength="48.97" lengthAdjust="spacingAndGlyphs" fill-opacity="0.95">25/02/2021</text>
<text transform="translate(991.58,706.80) rotate(-90)" x="-0.49" y="0" font-size="8.86" font-weight="normal" fill="#000" textLength="48.97" lengthAdjust="spacingAndGlyphs" fill-opacity="0.95">26/02/2021</text>
<text transform="translate(1010.79,706.80) rotate(-90)" x="-0.49" y="0" font-size="8.86" font-weight="normal" fill="#000" textLength="48.97" lengthAdjust="spacingAndGlyphs" fill-opacity="0.95">27/02/2021</text>
<text transform="translate(1029.99,706.80) rotate(-90)" x="-0.49" y="0" font-size="8.86" font-weight="normal" fill="#000" textLength="48.97" lengthAdjust="spacingAndGlyphs" fill-opacity="0.95">28/02/2021</text>
<text transform="translate(1049.19,706.80) rotate(-90)" x="-0.37" y="0" font-size="8.86" font-weight="normal" fill="#000" textLength="48.83" lengthAdjust="spacingAndGlyphs" fill-opacity="0.95">31/12/1899</text>
<text transform="translate(1068.40,706.80) rotate(-90)" x="-0.38" y="0" font-size="8.86" font-weight="normal" fill="#000" textLength="48.76" lengthAdjust="spacingAndGlyphs" fill-opacity="0.95">01/01/1900</text>
<line x1="508.30" y1="441.84" x2="508.30" y2="456.34" stroke="rgba(0,0,0,0.13)" stroke-width="1" />
<line x1="527.50" y1="441.46" x2="527.50" y2="455.96" stroke="rgba(0,0,0,0.13)" stroke-width="1" />
<line x1="546.71" y1="441.26" x2="546.71" y2="455.76" stroke="rgba(0,0,0,0.13)" stroke-width="1" />
<line x1="565.91" y1="441.40" x2="565.91" y2="455.90" stroke="rgba(0,0,0,0.13)" stroke-width="1" />
<line x1="585.12" y1="441.74" x2="585.12" y2="456.24" stroke="rgba(0,0,0,0.13)" stroke-width="1" />
<line x1="604.32" y1="441.76" x2="604.32" y2="456.26" stroke="rgba(0,0,0,0.13)" stroke-width="1" />
<line x1="623.52" y1="441.32" x2="623.52" y2="455.82" stroke="rgba(0,0,0,0.13)" stroke-width="1" />
<line x1="642.72" y1="448.39" x2="642.72" y2="462.89" stroke="rgba(0,0,0,0.13)" stroke-width="1" />
<line x1="661.93" y1="442.72" x2="661.93" y2="457.22" stroke="rgba(0,0,0,0.13)" stroke-width="1" />
<line x1="681.13" y1="442.18" x2="681.13" y2="456.68" stroke="rgba(0,0,0,0.13)" stroke-width="1" />
<line x1="700.33" y1="441.51" x2="700.33" y2="456.01" stroke="rgba(0,0,0,0.13)" stroke-width="1" />
<line x1="719.54" y1="441.40" x2="719.54" y2="455.90" stroke="rgba(0,0,0,0.13)" stroke-width="1" />
<line x1="738.74" y1="442.51" x2="738.74" y2="457.01" stroke="rgba(0,0,0,0.13)" stroke-width="1" />
<line x1="757.94" y1="444.23" x2="757.94" y2="458.73" stroke="rgba(0,0,0,0.13)" stroke-width="1" />
<line x1="777.15" y1="441.46" x2="777.15" y2="455.96" stroke="rgba(0,0,0,0.13)" stroke-width="1" />
<line x1="796.35" y1="441.75" x2="796.35" y2="456.25" stroke="rgba(0,0,0,0.13)" stroke-width="1" />
<line x1="815.55" y1="442.61" x2="815.55" y2="457.11" stroke="rgba(0,0,0,0.13)" stroke-width="1" />
<line x1="834.76" y1="441.75" x2="834.76" y2="456.25" stroke="rgba(0,0,0,0.13)" stroke-width="1" />
<line x1="853.96" y1="441.15" x2="853.96" y2="455.65" stroke="rgba(0,0,0,0.13)" stroke-width="1" />
<line x1="873.16" y1="442.78" x2="873.16" y2="457.28" stroke="rgba(0,0,0,0.13)" stroke-width="1" />
<line x1="892.37" y1="442.09" x2="892.37" y2="456.59" stroke="rgba(0,0,0,0.13)" stroke-width="1" />
<line x1="911.57" y1="441.89" x2="911.57" y2="456.39" stroke="rgba(0,0,0,0.13)" stroke-width="1" />
<line x1="930.77" y1="440.92" x2="930.77" y2="455.42" stroke="rgba(0,0,0,0.13)" stroke-width="1" />
<line x1="949.98" y1="441.12" x2="949.98" y2="455.62" stroke="rgba(0,0,0,0.13)" stroke-width="1" />
<line x1="969.18" y1="441.12" x2="969.18" y2="455.62" stroke="rgba(0,0,0,0.13)" stroke-width="1" />
<line x1="988.38" y1="441.40" x2="988.38" y2="455.90" stroke="rgba(0,0,0,0.13)" stroke-width="1" />
<line x1="1007.59" y1="441.54" x2="1007.59" y2="456.04" stroke="rgba(0,0,0,0.13)" stroke-width="1" />
<line x1="1026.79" y1="441.68" x2="1026.79" y2="456.18" stroke="rgba(0,0,0,0.13)" stroke-width="1" />
<path d="M508.30,440.34 C511.50,440.28 521.10,440.05 527.50,439.96 C533.91,439.86 540.31,439.77 546.71,439.76 C553.11,439.75 559.51,439.82 565.91,439.90 C572.31,439.98 578.71,440.18 585.12,440.24 C591.52,440.30 597.92,440.33 604.32,440.26 C610.72,440.19 617.12,438.71 623.52,439.82 C629.92,440.92 636.32,446.65 642.72,446.89 C649.13,447.12 655.53,442.26 661.93,441.22 C668.33,440.19 674.73,440.88 681.13,440.68 C687.53,440.48 693.93,440.14 700.33,440.01 C706.74,439.88 713.14,439.73 719.54,439.90 C725.94,440.06 732.34,440.53 738.74,441.01 C745.14,441.48 751.54,442.90 757.94,442.73 C764.35,442.56 770.75,440.38 777.15,439.96 C783.55,439.55 789.95,440.06 796.35,440.25 C802.75,440.44 809.15,441.11 815.55,441.11 C821.96,441.11 828.36,440.49 834.76,440.25 C841.16,440.01 847.56,439.48 853.96,439.65 C860.36,439.82 866.76,441.12 873.16,441.28 C879.57,441.44 885.97,440.74 892.37,440.59 C898.77,440.44 905.17,440.59 911.57,440.39 C917.97,440.20 924.37,439.55 930.77,439.42 C937.18,439.29 943.58,439.59 949.98,439.62 C956.38,439.66 962.78,439.58 969.18,439.62 C975.58,439.67 981.98,439.83 988.38,439.90 C994.79,439.97 1001.19,439.99 1007.59,440.04 C1013.99,440.08 1023.59,440.16 1026.79,440.18" fill="none" stroke="#00b050" stroke-width="3" stroke-linecap="butt" stroke-linejoin="round"/>
<rect x="499.05" y="459.14" width="19.10" height="8.00" fill="#5b9bd5" />
<text x="499.14" y="466.64" font-size="8.57" font-weight="bold" fill="#000" textLength="18.26" lengthAdjust="spacingAndGlyphs" >99%</text>
<rect x="518.25" y="458.76" width="19.10" height="8.00" fill="#5b9bd5" />
<text x="518.34" y="466.26" font-size="8.57" font-weight="bold" fill="#000" textLength="18.26" lengthAdjust="spacingAndGlyphs" >99%</text>
<rect x="537.46" y="458.56" width="19.10" height="8.00" fill="#5b9bd5" />
<text x="537.54" y="466.06" font-size="8.57" font-weight="bold" fill="#000" textLength="18.26" lengthAdjust="spacingAndGlyphs" >99%</text>
<rect x="556.66" y="458.70" width="19.10" height="8.00" fill="#5b9bd5" />
<text x="556.75" y="466.20" font-size="8.57" font-weight="bold" fill="#000" textLength="18.26" lengthAdjust="spacingAndGlyphs" >99%</text>
<rect x="575.87" y="459.04" width="19.10" height="8.00" fill="#5b9bd5" />
<text x="575.95" y="466.54" font-size="8.57" font-weight="bold" fill="#000" textLength="18.26" lengthAdjust="spacingAndGlyphs" >99%</text>
<rect x="595.07" y="459.06" width="19.10" height="8.00" fill="#5b9bd5" />
<text x="595.15" y="466.56" font-size="8.57" font-weight="bold" fill="#000" textLength="18.26" lengthAdjust="spacingAndGlyphs" >99%</text>
<rect x="614.27" y="458.62" width="19.10" height="8.00" fill="#5b9bd5" />
<text x="614.36" y="466.12" font-size="8.57" font-weight="bold" fill="#000" textLength="18.26" lengthAdjust="spacingAndGlyphs" >99%</text>
<rect x="633.47" y="465.69" width="19.10" height="8.00" fill="#5b9bd5" />
<text x="633.56" y="473.19" font-size="8.57" font-weight="bold" fill="#000" textLength="18.26" lengthAdjust="spacingAndGlyphs" >95%</text>
<rect x="652.68" y="460.02" width="19.10" height="8.00" fill="#5b9bd5" />
<text x="652.76" y="467.52" font-size="8.57" font-weight="bold" fill="#000" textLength="18.26" lengthAdjust="spacingAndGlyphs" >98%</text>
<rect x="671.88" y="459.48" width="19.10" height="8.00" fill="#5b9bd5" />
<text x="671.97" y="466.98" font-size="8.57" font-weight="bold" fill="#000" textLength="18.26" lengthAdjust="spacingAndGlyphs" >98%</text>
<rect x="691.08" y="458.81" width="19.10" height="8.00" fill="#5b9bd5" />
<text x="691.17" y="466.31" font-size="8.57" font-weight="bold" fill="#000" textLength="18.26" lengthAdjust="spacingAndGlyphs" >99%</text>
<rect x="710.29" y="458.70" width="19.10" height="8.00" fill="#5b9bd5" />
<text x="710.37" y="466.20" font-size="8.57" font-weight="bold" fill="#000" textLength="18.26" lengthAdjust="spacingAndGlyphs" >99%</text>
<rect x="729.49" y="459.81" width="19.10" height="8.00" fill="#5b9bd5" />
<text x="729.58" y="467.31" font-size="8.57" font-weight="bold" fill="#000" textLength="18.26" lengthAdjust="spacingAndGlyphs" >98%</text>
<rect x="748.69" y="461.53" width="19.10" height="8.00" fill="#5b9bd5" />
<text x="748.78" y="469.03" font-size="8.57" font-weight="bold" fill="#000" textLength="18.26" lengthAdjust="spacingAndGlyphs" >97%</text>
<rect x="767.90" y="458.76" width="19.10" height="8.00" fill="#5b9bd5" />
<text x="767.98" y="466.26" font-size="8.57" font-weight="bold" fill="#000" textLength="18.26" lengthAdjust="spacingAndGlyphs" >99%</text>
<rect x="787.10" y="459.05" width="19.10" height="8.00" fill="#5b9bd5" />
<text x="787.19" y="466.55" font-size="8.57" font-weight="bold" fill="#000" textLength="18.26" lengthAdjust="spacingAndGlyphs" >99%</text>
<rect x="806.30" y="459.91" width="19.10" height="8.00" fill="#5b9bd5" />
<text x="806.39" y="467.41" font-size="8.57" font-weight="bold" fill="#000" textLength="18.26" lengthAdjust="spacingAndGlyphs" >98%</text>
<rect x="825.51" y="459.05" width="19.10" height="8.00" fill="#5b9bd5" />
<text x="825.59" y="466.55" font-size="8.57" font-weight="bold" fill="#000" textLength="18.26" lengthAdjust="spacingAndGlyphs" >99%</text>
<rect x="844.71" y="458.45" width="19.10" height="8.00" fill="#5b9bd5" />
<text x="844.80" y="465.95" font-size="8.57" font-weight="bold" fill="#000" textLength="18.26" lengthAdjust="spacingAndGlyphs" >99%</text>
<rect x="863.91" y="460.08" width="19.10" height="8.00" fill="#5b9bd5" />
<text x="864.00" y="467.58" font-size="8.57" font-weight="bold" fill="#000" textLength="18.26" lengthAdjust="spacingAndGlyphs" >98%</text>
<rect x="883.12" y="459.39" width="19.10" height="8.00" fill="#5b9bd5" />
<text x="883.20" y="466.89" font-size="8.57" font-weight="bold" fill="#000" textLength="18.26" lengthAdjust="spacingAndGlyphs" >98%</text>
<rect x="902.32" y="459.19" width="19.10" height="8.00" fill="#5b9bd5" />
<text x="902.41" y="466.69" font-size="8.57" font-weight="bold" fill="#000" textLength="18.26" lengthAdjust="spacingAndGlyphs" >99%</text>
<rect x="921.52" y="458.22" width="19.10" height="8.00" fill="#5b9bd5" />
<text x="921.61" y="465.72" font-size="8.57" font-weight="bold" fill="#000" textLength="18.26" lengthAdjust="spacingAndGlyphs" >99%</text>
<rect x="940.73" y="458.42" width="19.10" height="8.00" fill="#5b9bd5" />
<text x="940.81" y="465.92" font-size="8.57" font-weight="bold" fill="#000" textLength="18.26" lengthAdjust="spacingAndGlyphs" >99%</text>
<rect x="959.93" y="458.42" width="19.10" height="8.00" fill="#5b9bd5" />
<text x="960.02" y="465.92" font-size="8.57" font-weight="bold" fill="#000" textLength="18.26" lengthAdjust="spacingAndGlyphs" >99%</text>
<rect x="979.13" y="458.70" width="19.10" height="8.00" fill="#5b9bd5" />
<text x="979.22" y="466.20" font-size="8.57" font-weight="bold" fill="#000" textLength="18.26" lengthAdjust="spacingAndGlyphs" >99%</text>
<rect x="998.34" y="458.84" width="19.10" height="8.00" fill="#5b9bd5" />
<text x="998.42" y="466.34" font-size="8.57" font-weight="bold" fill="#000" textLength="18.26" lengthAdjust="spacingAndGlyphs" >99%</text>
<rect x="1017.54" y="458.98" width="19.10" height="8.00" fill="#5b9bd5" />
<text x="1017.63" y="466.48" font-size="8.57" font-weight="bold" fill="#000" textLength="18.26" lengthAdjust="spacingAndGlyphs" >99%</text>
<rect x="1178.70" y="437.40" width="471.30" height="209.80" fill="#5b9bd5" />
<rect x="1178.70" y="436.85" width="471.30" height="1.10" fill="#3d5d7c" />
<rect x="1178.70" y="489.30" width="471.30" height="1.10" fill="#3d5d7c" />
<rect x="1178.70" y="541.75" width="471.30" height="1.10" fill="#3d5d7c" />
<rect x="1178.70" y="594.20" width="471.30" height="1.10" fill="#3d5d7c" />
<rect x="1178.00" y="646.50" width="472.00" height="1.40" fill="#000" />
<rect x="1197.74" y="647.20" width="1.20" height="12.00" fill="#000" />
<rect x="1237.01" y="647.20" width="1.20" height="12.00" fill="#000" />
<rect x="1276.29" y="647.20" width="1.20" height="12.00" fill="#000" />
<rect x="1315.56" y="647.20" width="1.20" height="12.00" fill="#000" />
<rect x="1354.84" y="647.20" width="1.20" height="12.00" fill="#000" />
<rect x="1394.11" y="647.20" width="1.20" height="12.00" fill="#000" />
<rect x="1433.39" y="647.20" width="1.20" height="12.00" fill="#000" />
<rect x="1472.66" y="647.20" width="1.20" height="12.00" fill="#000" />
<rect x="1511.94" y="647.20" width="1.20" height="12.00" fill="#000" />
<rect x="1551.21" y="647.20" width="1.20" height="12.00" fill="#000" />
<rect x="1590.49" y="647.20" width="1.20" height="12.00" fill="#000" />
<rect x="1629.76" y="647.20" width="1.20" height="12.00" fill="#000" />
<text x="1289.84" y="413.80" font-size="17.86" font-weight="bold" fill="#000" textLength="188.57" lengthAdjust="spacingAndGlyphs" >Monthly Yield Analysis</text>
<text x="1117.76" y="441.80" font-size="12.86" font-weight="bold" fill="#000" textLength="52.90" lengthAdjust="spacingAndGlyphs" >100.00%</text>
<text x="1125.73" y="494.25" font-size="12.86" font-weight="bold" fill="#000" textLength="44.92" lengthAdjust="spacingAndGlyphs" >75.00%</text>
<text x="1125.89" y="546.70" font-size="12.86" font-weight="bold" fill="#000" textLength="44.75" lengthAdjust="spacingAndGlyphs" >50.00%</text>
<text x="1125.84" y="599.15" font-size="12.86" font-weight="bold" fill="#000" textLength="44.81" lengthAdjust="spacingAndGlyphs" >25.00%</text>
<text x="1132.97" y="651.60" font-size="12.86" font-weight="bold" fill="#000" textLength="37.68" lengthAdjust="spacingAndGlyphs" >0.00%</text>
<text transform="translate(1201.84,702.00) rotate(-90)" x="-0.14" y="0" font-size="9.14" font-weight="normal" fill="#000" textLength="36.77" lengthAdjust="spacingAndGlyphs" fill-opacity="0.95">Jan-2021</text>
<text transform="translate(1241.11,702.00) rotate(-90)" x="-0.72" y="0" font-size="9.14" font-weight="normal" fill="#000" textLength="37.34" lengthAdjust="spacingAndGlyphs" fill-opacity="0.95">Feb-2021</text>
<text transform="translate(1280.39,704.20) rotate(-90)" x="-0.76" y="0" font-size="9.14" font-weight="normal" fill="#000" textLength="39.61" lengthAdjust="spacingAndGlyphs" fill-opacity="0.95">Mar-2021</text>
<text transform="translate(1319.66,703.00) rotate(-90)" x="-0.02" y="0" font-size="9.14" font-weight="normal" fill="#000" textLength="37.66" lengthAdjust="spacingAndGlyphs" fill-opacity="0.95">Apr-2021</text>
<text transform="translate(1358.94,705.20) rotate(-90)" x="-0.75" y="0" font-size="9.14" font-weight="normal" fill="#000" textLength="40.59" lengthAdjust="spacingAndGlyphs" fill-opacity="0.95">May-2021</text>
<text transform="translate(1398.21,702.00) rotate(-90)" x="-0.14" y="0" font-size="9.14" font-weight="normal" fill="#000" textLength="36.77" lengthAdjust="spacingAndGlyphs" fill-opacity="0.95">Jun-2021</text>
<text transform="translate(1437.49,699.20) rotate(-90)" x="-0.14" y="0" font-size="9.14" font-weight="normal" fill="#000" textLength="33.97" lengthAdjust="spacingAndGlyphs" fill-opacity="0.95">Jul-2021</text>
<text transform="translate(1476.76,704.00) rotate(-90)" x="-0.02" y="0" font-size="9.14" font-weight="normal" fill="#000" textLength="38.65" lengthAdjust="spacingAndGlyphs" fill-opacity="0.95">Aug-2021</text>
<text transform="translate(1516.04,703.00) rotate(-90)" x="-0.40" y="0" font-size="9.14" font-weight="normal" fill="#000" textLength="38.03" lengthAdjust="spacingAndGlyphs" fill-opacity="0.95">Sep-2021</text>
<text transform="translate(1555.31,702.00) rotate(-90)" x="-0.43" y="0" font-size="9.14" font-weight="normal" fill="#000" textLength="37.07" lengthAdjust="spacingAndGlyphs" fill-opacity="0.95">Oct-2021</text>
<text transform="translate(1594.59,703.40) rotate(-90)" x="-0.73" y="0" font-size="9.14" font-weight="normal" fill="#000" textLength="38.77" lengthAdjust="spacingAndGlyphs" fill-opacity="0.95">Nov-2021</text>
<text transform="translate(1633.86,702.30) rotate(-90)" x="-0.71" y="0" font-size="9.14" font-weight="normal" fill="#000" textLength="37.64" lengthAdjust="spacingAndGlyphs" fill-opacity="0.95">Dec-2021</text>
<line x1="1198.34" y1="441.80" x2="1198.34" y2="456.00" stroke="rgba(0,0,0,0.13)" stroke-width="1" />
<line x1="1237.61" y1="441.80" x2="1237.61" y2="456.00" stroke="rgba(0,0,0,0.13)" stroke-width="1" />
<line x1="1276.89" y1="441.80" x2="1276.89" y2="456.00" stroke="rgba(0,0,0,0.13)" stroke-width="1" />
<line x1="1316.16" y1="441.80" x2="1316.16" y2="456.00" stroke="rgba(0,0,0,0.13)" stroke-width="1" />
<line x1="1355.44" y1="441.80" x2="1355.44" y2="456.00" stroke="rgba(0,0,0,0.13)" stroke-width="1" />
<line x1="1394.71" y1="441.80" x2="1394.71" y2="456.00" stroke="rgba(0,0,0,0.13)" stroke-width="1" />
<line x1="1433.99" y1="441.80" x2="1433.99" y2="456.00" stroke="rgba(0,0,0,0.13)" stroke-width="1" />
<line x1="1473.26" y1="441.80" x2="1473.26" y2="456.00" stroke="rgba(0,0,0,0.13)" stroke-width="1" />
<line x1="1512.54" y1="441.80" x2="1512.54" y2="456.00" stroke="rgba(0,0,0,0.13)" stroke-width="1" />
<line x1="1551.81" y1="441.80" x2="1551.81" y2="456.00" stroke="rgba(0,0,0,0.13)" stroke-width="1" />
<line x1="1591.09" y1="441.80" x2="1591.09" y2="456.00" stroke="rgba(0,0,0,0.13)" stroke-width="1" />
<path d="M1198.34,440.30 L1591.09,440.30" fill="none" stroke="#00b050" stroke-width="3.2"/>
<rect x="1186.89" y="459.20" width="24.00" height="10.40" fill="#5b9bd5" />
<text x="1186.89" y="469.10" font-size="11.57" font-weight="bold" fill="#000" textLength="22.80" lengthAdjust="spacingAndGlyphs" >98%</text>
<rect x="1226.16" y="459.20" width="24.00" height="10.40" fill="#5b9bd5" />
<text x="1226.17" y="469.10" font-size="11.57" font-weight="bold" fill="#000" textLength="22.80" lengthAdjust="spacingAndGlyphs" >98%</text>
<rect x="1265.44" y="459.20" width="24.00" height="10.40" fill="#5b9bd5" />
<text x="1265.44" y="469.10" font-size="11.57" font-weight="bold" fill="#000" textLength="22.80" lengthAdjust="spacingAndGlyphs" >98%</text>
<rect x="1304.71" y="459.20" width="24.00" height="10.40" fill="#5b9bd5" />
<text x="1304.72" y="469.10" font-size="11.57" font-weight="bold" fill="#000" textLength="22.80" lengthAdjust="spacingAndGlyphs" >98%</text>
<rect x="1343.99" y="459.20" width="24.00" height="10.40" fill="#5b9bd5" />
<text x="1343.99" y="469.10" font-size="11.57" font-weight="bold" fill="#000" textLength="22.80" lengthAdjust="spacingAndGlyphs" >98%</text>
<rect x="1383.26" y="459.20" width="24.00" height="10.40" fill="#5b9bd5" />
<text x="1383.27" y="469.10" font-size="11.57" font-weight="bold" fill="#000" textLength="22.80" lengthAdjust="spacingAndGlyphs" >98%</text>
<rect x="1422.54" y="459.20" width="24.00" height="10.40" fill="#5b9bd5" />
<text x="1422.54" y="469.10" font-size="11.57" font-weight="bold" fill="#000" textLength="22.80" lengthAdjust="spacingAndGlyphs" >98%</text>
<rect x="1461.81" y="459.20" width="24.00" height="10.40" fill="#5b9bd5" />
<text x="1461.82" y="469.10" font-size="11.57" font-weight="bold" fill="#000" textLength="22.80" lengthAdjust="spacingAndGlyphs" >98%</text>
<rect x="1501.09" y="459.20" width="24.00" height="10.40" fill="#5b9bd5" />
<text x="1501.09" y="469.10" font-size="11.57" font-weight="bold" fill="#000" textLength="22.80" lengthAdjust="spacingAndGlyphs" >98%</text>
<rect x="1540.36" y="459.20" width="24.00" height="10.40" fill="#5b9bd5" />
<text x="1540.37" y="469.10" font-size="11.57" font-weight="bold" fill="#000" textLength="22.80" lengthAdjust="spacingAndGlyphs" >98%</text>
<rect x="1579.64" y="459.20" width="24.00" height="10.40" fill="#5b9bd5" />
<text x="1579.64" y="469.10" font-size="11.57" font-weight="bold" fill="#000" textLength="22.80" lengthAdjust="spacingAndGlyphs" >98%</text>
<rect x="0.00" y="730.00" width="1678.00" height="13.00" fill="#ffffff" />
<rect x="3.30" y="732.00" width="1.00" height="10.00" fill="#e3e3e3" />
<rect x="5.7" y="732" width="1485.4" height="9" rx="4.5" ry="4.5" fill="#dadce0"/>
<rect x="0.00" y="742.80" width="1678.00" height="1.20" fill="#e1e1e1" />
<rect x="0.00" y="744.00" width="1678.00" height="35.00" fill="#f8f9fa" />
<rect x="0.00" y="779.10" width="1678.00" height="1.60" fill="#bdbdbd" />
<rect x="0.00" y="780.70" width="1678.00" height="0.60" fill="#d6d6d6" />
<rect x="0.00" y="781.00" width="1678.00" height="9.00" fill="#eeeeee" />
<rect x="1190.2" y="785.5" width="57.2" height="12" rx="5" ry="5" fill="#f8f8f8" stroke="#e2e2e2" stroke-width="1"/>
<rect x="15.20" y="761.90" width="9.80" height="2.00" fill="#474747" />
<rect x="19.10" y="758.00" width="2.00" height="9.80" fill="#474747" />
<rect x="53.20" y="758.40" width="13.80" height="1.80" fill="#474747" />
<rect x="53.20" y="762.20" width="13.80" height="1.80" fill="#474747" />
<rect x="53.20" y="766.00" width="13.80" height="1.80" fill="#474747" />
<rect x="167.40" y="744.00" width="135.40" height="34.80" fill="#e1e9f7" />
<rect x="93.00" y="777.00" width="74.20" height="2.00" fill="#f4c542" />
<rect x="167.80" y="777.00" width="134.20" height="2.00" fill="#b7510b" />
<rect x="303.00" y="777.00" width="207.80" height="2.00" fill="#4b8a31" />
<rect x="512.20" y="777.00" width="229.80" height="2.00" fill="#c55a11" />
<rect x="743.10" y="777.00" width="215.80" height="2.00" fill="#9fc5e8" />
<text x="103.61" y="768.00" font-size="14.43" font-weight="normal" fill="#444746" textLength="32.46" lengthAdjust="spacingAndGlyphs" stroke="#444746" stroke-width="0.25">Help</text>
<text x="179.00" y="768.00" font-size="14.29" font-weight="normal" fill="#0b57d0" textLength="92.50" lengthAdjust="spacingAndGlyphs" stroke="#0b57d0" stroke-width="0.55">DASHBOARD</text>
<text x="314.12" y="768.00" font-size="14.43" font-weight="normal" fill="#444746" textLength="166.14" lengthAdjust="spacingAndGlyphs" stroke="#444746" stroke-width="0.25">Daily Rejection Analysis</text>
<text x="523.31" y="768.00" font-size="14.43" font-weight="normal" fill="#444746" textLength="187.55" lengthAdjust="spacingAndGlyphs" stroke="#444746" stroke-width="0.25">Monthly Rejection Analysis</text>
<text x="755.26" y="768.00" font-size="14.43" font-weight="normal" fill="#444746" textLength="173.00" lengthAdjust="spacingAndGlyphs" stroke="#444746" stroke-width="0.25">Yearly Rejection Analysis</text>
<path d="M146.80,760.40 L155.40,760.40 L151.10,765.20 Z" fill="#444746"/>
<path d="M283.20,760.40 L291.40,760.40 L287.30,765.20 Z" fill="#0b57d0"/>
<path d="M491.20,760.40 L498.80,760.40 L495.00,765.20 Z" fill="#444746"/>
<path d="M722.30,760.40 L730.20,760.40 L726.25,765.20 Z" fill="#444746"/>
<path d="M939.00,760.40 L946.90,760.40 L942.95,765.20 Z" fill="#444746"/>
</svg>
</body></html>
